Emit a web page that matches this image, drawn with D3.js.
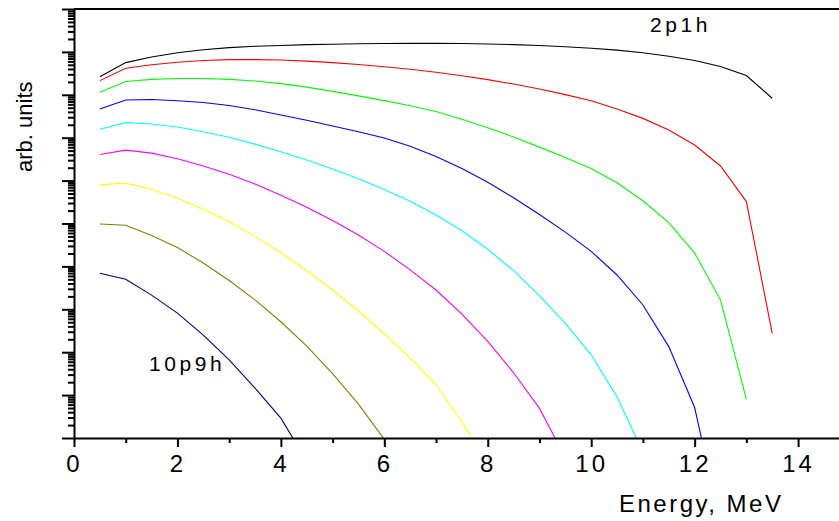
<!DOCTYPE html>
<html>
<head>
<meta charset="utf-8">
<script src="https://cdn.jsdelivr.net/npm/d3@7"></script>
<style>
  body { margin: 0; background: #fff; }
  svg { display: block; font-family: "Liberation Sans", Arial, sans-serif; }
  .axis path, .axis line { stroke: #000; stroke-width: 2; }
  .curve { fill: none; stroke-width: 1.1; }
</style>
</head>
<body>
<svg id="chart" width="839" height="521"></svg>
<script>
// Energy grid, MeV
const energy = [0.5, 1, 1.5, 2, 2.5, 3, 3.5, 4, 4.5, 5, 5.5, 6, 6.5, 7, 7.5, 8, 8.5,
                9, 9.5, 10, 10.5, 11, 11.5, 12, 12.5, 13, 13.5];

// Level densities (arb. units)
const s2p1h = [2.63e8, 5.62e8, 7.59e8, 9.55e8, 1.12e9, 1.26e9, 1.35e9, 1.41e9, 1.48e9, 1.51e9,
               1.55e9, 1.57e9, 1.58e9, 1.58e9, 1.57e9, 1.53e9, 1.48e9, 1.41e9, 1.32e9, 1.22e9,
               1.10e9, 9.55e8, 7.94e8, 6.31e8, 4.57e8, 2.82e8, 8.32e7];
const s3p2h = [2.14e8, 4.17e8, 5.01e8, 5.75e8, 6.31e8, 6.61e8, 6.61e8, 6.46e8, 6.10e8, 5.62e8,
               5.07e8, 4.52e8, 3.94e8, 3.35e8, 2.79e8, 2.26e8, 1.78e8, 1.36e8, 1.01e8, 7.24e7,
               4.68e7, 2.82e7, 1.51e7, 6.76e6, 2.19e6, 3.24e5, 2.75e2];
const s4p3h = [1.15e8, 2.04e8, 2.29e8, 2.40e8, 2.40e8, 2.29e8, 2.09e8, 1.82e8, 1.51e8, 1.20e8,
               9.44e7, 7.33e7, 5.56e7, 4.07e7, 2.69e7, 1.70e7, 1.04e7, 6.03e6, 3.47e6, 1.91e6,
               8.91e5, 3.39e5, 1.05e5, 2.04e4, 1.66e3, 7.94];
const s5p4h = [4.68e7, 7.59e7, 7.76e7, 7.24e7, 6.61e7, 5.62e7, 4.47e7, 3.39e7, 2.54e7, 1.88e7,
               1.38e7, 9.89e6, 6.31e6, 3.63e6, 1.91e6, 9.12e5, 3.98e5, 1.62e5, 6.31e4, 2.24e4,
               6.31e3, 1.26e3, 135, 5.13, 0.01];
const s6p5h = [1.58e7, 2.24e7, 2.09e7, 1.78e7, 1.38e7, 1.02e7, 7.08e6, 4.68e6, 3.02e6, 1.86e6,
               1.10e6, 6.17e5, 3.31e5, 1.58e5, 6.76e4, 2.51e4, 7.94e3, 2.09e3, 468, 87, 9.1, 0.46];
const s7p6h = [4.07e6, 5.13e6, 4.37e6, 3.24e6, 2.19e6, 1.41e6, 8.32e5, 4.57e5, 2.40e5, 1.17e5,
               5.37e4, 2.24e4, 8.32e3, 2.82e3, 776, 178, 33.1, 4.9, 0.35];
const s8p7h = [7.94e5, 8.71e5, 6.31e5, 3.89e5, 2.14e5, 1.10e5, 5.01e4, 2.09e4, 7.94e3, 2.82e3,
               912, 269, 72.4, 17.4, 2.4, 0.24];
const s9p8h = [9.77e4, 9.12e4, 5.25e4, 2.75e4, 1.20e4, 4.68e3, 1.66e3, 513, 138, 31.6, 6.17, 0.93];
const s10p9h = [6.92e3, 5.01e3, 2.14e3, 813, 251, 66, 14.5, 2.9, 0.29];

const series = [s2p1h, s3p2h, s4p3h, s5p4h, s6p5h, s7p6h, s8p7h, s9p8h, s10p9h];
const colors = ["#000000", "#ff0000", "#00ff00", "#0000ff", "#00ffff",
                "#ff00ff", "#ffff00", "#808000", "#000080"];

const xMajor = [0, 2, 4, 6, 8, 10, 12, 14];
const xMinor = [1, 3, 5, 7, 9, 11, 13];

const svg = d3.select('#chart');
const plotLeft = 74, plotTop = 9, plotBottom = 438;

const x = d3.scaleLinear().domain([0, 15]).range([plotLeft, plotLeft + 15 * 51.72]);
const y = d3.scaleLog().domain([1, 1e10]).range([plotBottom, plotTop]);

// log ticks: decades and 2..9 in between
const yMajor = d3.range(0, 11).map(k => Math.pow(10, k));
const yMinor = [];
d3.range(0, 10).forEach(k => {
    for (let m = 2; m <= 9; m++) yMinor.push(m * Math.pow(10, k));
});

svg.append('defs').append('clipPath').attr('id', 'plot-clip')
    .append('rect')
    .attr('x', plotLeft).attr('y', plotTop)
    .attr('width', 839 - plotLeft).attr('height', plotBottom - plotTop);

// curves
const line = d3.line()
    .x(d => x(d[0]))
    .y(d => y(d[1]));

svg.append('g')
    .attr('clip-path', 'url(#plot-clip)')
    .selectAll('path')
    .data(series)
    .join('path')
    .attr('class', 'curve')
    .attr('stroke', (d, i) => colors[i])
    .attr('d', d => line(d.map((v, j) => [energy[j], v])));

// x axis
svg.append('g')
    .attr('class', 'axis')
    .attr('transform', `translate(0,${plotBottom})`)
    .call(d3.axisBottom(x).tickValues(xMinor).tickSize(5).tickFormat(''))
    .call(g => g.select('.domain').remove());

const xAxis = svg.append('g')
    .attr('class', 'axis')
    .attr('transform', `translate(0,${plotBottom})`)
    .call(d3.axisBottom(x).tickValues(xMajor).tickSize(9).tickSizeOuter(0).tickPadding(8));
xAxis.selectAll('text')
    .attr('font-size', 24)
    .attr('letter-spacing', '3px')
    .attr('fill', '#000')
    .attr('font-family', '"Liberation Sans", Arial, sans-serif');

// y axis
svg.append('g')
    .attr('class', 'axis')
    .attr('transform', `translate(${plotLeft},0)`)
    .call(d3.axisLeft(y).tickValues(yMinor).tickSize(6).tickFormat(''))
    .call(g => g.select('.domain').remove());

svg.append('g')
    .attr('class', 'axis')
    .attr('transform', `translate(${plotLeft},0)`)
    .call(d3.axisLeft(y).tickValues(yMajor).tickSize(12).tickSizeOuter(0).tickFormat(''));

// top frame line
svg.append('line')
    .attr('x1', plotLeft).attr('x2', 839)
    .attr('y1', plotTop).attr('y2', plotTop)
    .attr('stroke', '#000').attr('stroke-width', 2);

// titles and labels
svg.append('text')
    .attr('x', 619).attr('y', 512)
    .attr('font-size', 24)
    .attr('letter-spacing', '2.5px')
    .text('Energy, MeV');

svg.append('text')
    .attr('transform', 'translate(32,172) rotate(-90)')
    .attr('font-size', 22)
    .text('arb. units');

svg.append('text')
    .attr('x', 650).attr('y', 32)
    .attr('font-size', 21)
    .attr('letter-spacing', '3.6px')
    .text('2p1h');

svg.append('text')
    .attr('x', 149).attr('y', 371)
    .attr('font-size', 21)
    .attr('letter-spacing', '3.6px')
    .text('10p9h');
</script>
</body>
</html>
